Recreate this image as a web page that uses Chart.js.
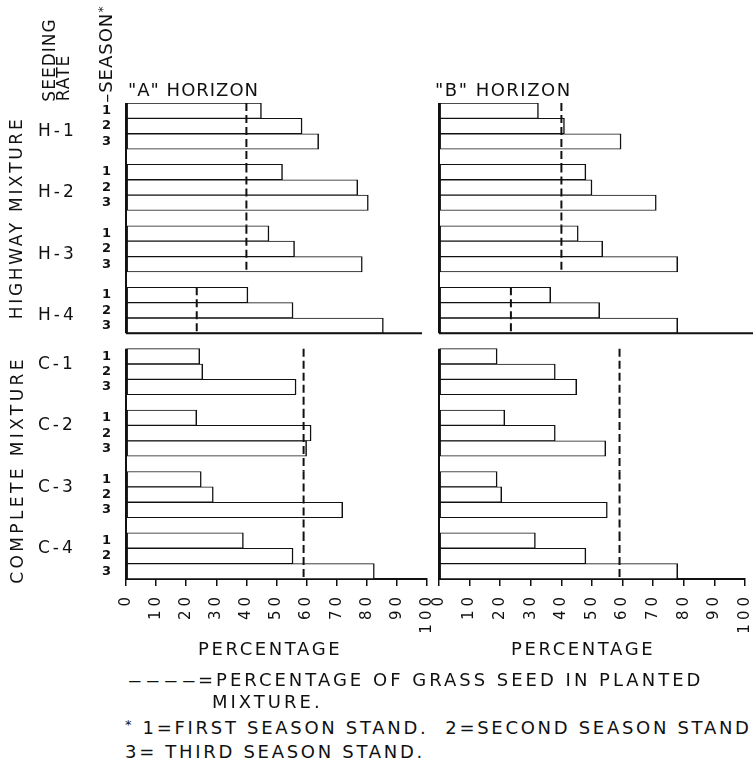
<!DOCTYPE html>
<html>
<head>
<meta charset="utf-8">
<script src="https://cdn.jsdelivr.net/npm/chart.js@4.4.1/dist/chart.umd.min.js"></script>
<style>
  html, body { margin: 0; padding: 0; background: #fff; }
  #page { position: relative; width: 753px; height: 759px; overflow: hidden;
          font-family: 'DejaVu Sans', sans-serif; color: #111; }
  canvas { position: absolute; top: 0; }
  .t { position: absolute; white-space: nowrap; font-size: 18px; line-height: 18px; letter-spacing: 3px; }
  .rot { position: absolute; white-space: nowrap; font-size: 17px; line-height: 18px;
         transform: translate(-50%, -50%) rotate(-90deg); }
  .grp { position: absolute; white-space: nowrap; font-size: 17px; line-height: 18px; letter-spacing: 3px; }
  sup { font-size: 13px; vertical-align: 5px; line-height: 0; }
</style>
</head>
<body>
<div id="page">
  <canvas id="chartA" width="440" height="640" style="left:0"></canvas>
  <canvas id="chartB" width="323" height="640" style="left:430px"></canvas>

  <div class="rot" style="left:49px;top:60px;letter-spacing:1px">SEEDING</div>
  <div class="rot" style="left:63px;top:78px;letter-spacing:1px">RATE</div>
  <div class="rot" style="left:106px;top:54px;font-size:18px;letter-spacing:1px">–SEASON<sup>*</sup></div>
  <div class="rot" style="left:16px;top:218px;letter-spacing:2.7px">HIGHWAY MIXTURE</div>
  <div class="rot" style="left:17px;top:470px;letter-spacing:3.4px">COMPLETE MIXTURE</div>

  <div class="t" style="left:128px;top:81px;letter-spacing:1px">"A" HORIZON</div>
  <div class="t" style="left:435px;top:81px;letter-spacing:1.5px">"B" HORIZON</div>

  <div class="t" style="left:198px;top:640px;letter-spacing:2.6px">PERCENTAGE</div>
  <div class="t" style="left:511px;top:640px;letter-spacing:2.6px">PERCENTAGE</div>

  <div class="t" style="left:127px;top:671px;letter-spacing:1px;transform:scaleX(2.4);transform-origin:left center">----</div>
  <div class="t" style="left:198px;top:671px">=PERCENTAGE OF GRASS SEED IN PLANTED</div>
  <div class="t" style="left:212px;top:693px">MIXTURE.</div>
  <div class="t" style="left:125px;top:719px;letter-spacing:2.7px"><sup>*</sup> 1=FIRST SEASON STAND.&nbsp; 2=SECOND SEASON STAND</div>
  <div class="t" style="left:125px;top:743px;letter-spacing:2.7px">3= THIRD SEASON STAND.</div>
</div>

<script>
// seeding rates and seasons (1 = first season stand, 2 = second, 3 = third)
const seasons = ['1', '2', '3'];
const highwayRates = ['H-1', 'H-2', 'H-3', 'H-4'];
const completeRates = ['C-1', 'C-2', 'C-3', 'C-4'];

// percentage of grass in stand, per rate: [season 1, season 2, season 3]
const aHighway = [[45, 58.5, 64], [52, 77, 80.5], [47.5, 56, 78.5], [40.5, 55.5, 85.5]];
const aComplete = [[24.5, 25.5, 56.5], [23.5, 61.5, 60], [25, 29, 72], [39, 55.5, 82.5]];
const bHighway = [[32.5, 41, 59.5], [48, 50, 71], [45.5, 53.5, 78], [36.5, 52.5, 78]];
const bComplete = [[19, 38, 45], [21.5, 38, 54.5], [19, 20.5, 55], [31.5, 48, 78]];

// percentage of grass seed in planted mixture (dashed lines)
const highwaySeed = [40, 40, 40, 23.5];
const completeSeed = [59, 59, 59, 59];

const xTicks = [0, 10, 20, 30, 40, 50, 60, 70, 80, 90, 100];

Chart.defaults.font.family = "'DejaVu Sans', sans-serif";
Chart.defaults.color = '#111';

// 3 bars per rate, one empty slot between rates
const slots = (groups) => {
  const out = [];
  groups.forEach((g, i) => {
    out.push(...g);
    if (i < groups.length - 1) out.push(null);
  });
  return out;
};

const labels = [
  ...slots(highwayRates.map(() => seasons)), null,
  ...slots(completeRates.map(() => seasons))
].map(l => l === null ? '' : l);

const HIGH_START = 0;
const COMP_START = 16;

const sectionPlugin = {
  id: 'sections',
  beforeDraw(chart) { chart.ctx.letterSpacing = '4px'; },
  beforeDatasetsDraw(chart) { chart.ctx.letterSpacing = '0px'; },
  afterDatasetsDraw(chart, args, opts) {
    const { ctx, chartArea } = chart;
    const x = chart.scales.x, y = chart.scales.y;
    const slot = y.getPixelForValue(1) - y.getPixelForValue(0);
    const top = i => y.getPixelForValue(i) - slot / 2;
    const bottom = i => y.getPixelForValue(i) + slot / 2;

    ctx.save();
    ctx.strokeStyle = '#111';
    ctx.lineWidth = 2;

    // left axis, broken between the two mixtures
    [HIGH_START, COMP_START].forEach(s => {
      ctx.beginPath();
      ctx.moveTo(chartArea.left, top(s));
      ctx.lineTo(chartArea.left, bottom(s + 14));
      ctx.stroke();
    });

    // base line under highway mixture
    ctx.beginPath();
    ctx.moveTo(chartArea.left, bottom(HIGH_START + 14));
    ctx.lineTo(opts.toEdge ? chart.width : chartArea.right - 5, bottom(HIGH_START + 14));
    ctx.stroke();

    // dashed seed percentage lines
    ctx.setLineDash([8, 4]);
    [[HIGH_START, highwaySeed], [COMP_START, completeSeed]].forEach(([start, seeds]) => {
      seeds.forEach((v, g) => {
        const px = x.getPixelForValue(v);
        const y0 = top(start + 4 * g);
        const y1 = seeds[g + 1] === v ? top(start + 4 * (g + 1)) : bottom(start + 4 * g + 2);
        ctx.beginPath();
        ctx.moveTo(px, y0);
        ctx.lineTo(px, y1);
        ctx.stroke();
      });
    });
    ctx.restore();
  }
};

const makeChart = (id, highway, complete, showSeasons, pad, toEdge) => new Chart(document.getElementById(id), {
  type: 'bar',
  data: {
    labels: labels,
    datasets: [{
      data: [...slots(highway), null, ...slots(complete)],
      backgroundColor: '#fff',
      borderColor: '#111',
      borderWidth: { top: 1, bottom: 1, left: 1.5, right: 1.5 },
      borderSkipped: false,
      barPercentage: 1,
      categoryPercentage: 1
    }]
  },
  options: {
    indexAxis: 'y',
    responsive: false,
    animation: false,
    layout: { padding: pad },
    plugins: { legend: { display: false }, tooltip: { enabled: false }, sections: { toEdge } },
    scales: {
      x: {
        min: 0,
        max: 100,
        afterBuildTicks: (s) => { s.ticks = xTicks.map(v => ({ value: v })); },
        ticks: { autoSkip: false, minRotation: 90, maxRotation: 90, padding: 7, font: { size: 15 } },
        grid: { drawOnChartArea: false, drawTicks: true, tickLength: 7, color: '#111', lineWidth: 1.5 },
        border: { display: true, color: '#111', width: 2 },
        afterFit: (s) => { s.height = 61; s.paddingLeft = 0; s.paddingRight = 0; }
      },
      y: {
        display: showSeasons,
        offset: true,
        ticks: { autoSkip: false, padding: 7, font: { size: 13, weight: 'bold' }, z: 1 },
        grid: { display: false },
        border: { display: false },
        afterFit: (s) => { s.width = showSeasons ? 126 : 0; s.paddingTop = 0; s.paddingBottom = 0; }
      }
    }
  },
  plugins: [sectionPlugin]
});

const chartA = makeChart('chartA', aHighway, aComplete, true, { top: 103, right: 13, left: 0, bottom: 0 }, false);
makeChart('chartB', bHighway, bComplete, false, { top: 103, right: 8, left: 9, bottom: 0 }, true);

// rate labels next to the middle bar of each group
const page = document.getElementById('page');
const yA = chartA.scales.y;
const addGroupLabel = (text, cy) => {
  const d = document.createElement('div');
  d.className = 'grp';
  d.textContent = text;
  d.style.left = '38px';
  d.style.top = (cy - 9) + 'px';
  page.appendChild(d);
};
highwayRates.forEach((r, g) => addGroupLabel(r, yA.getPixelForValue(HIGH_START + 4 * g + 1) + 4));
completeRates.forEach((r, g) => addGroupLabel(r, yA.getPixelForValue(COMP_START + 4 * g + 1) - 9));
</script>
</body>
</html>
